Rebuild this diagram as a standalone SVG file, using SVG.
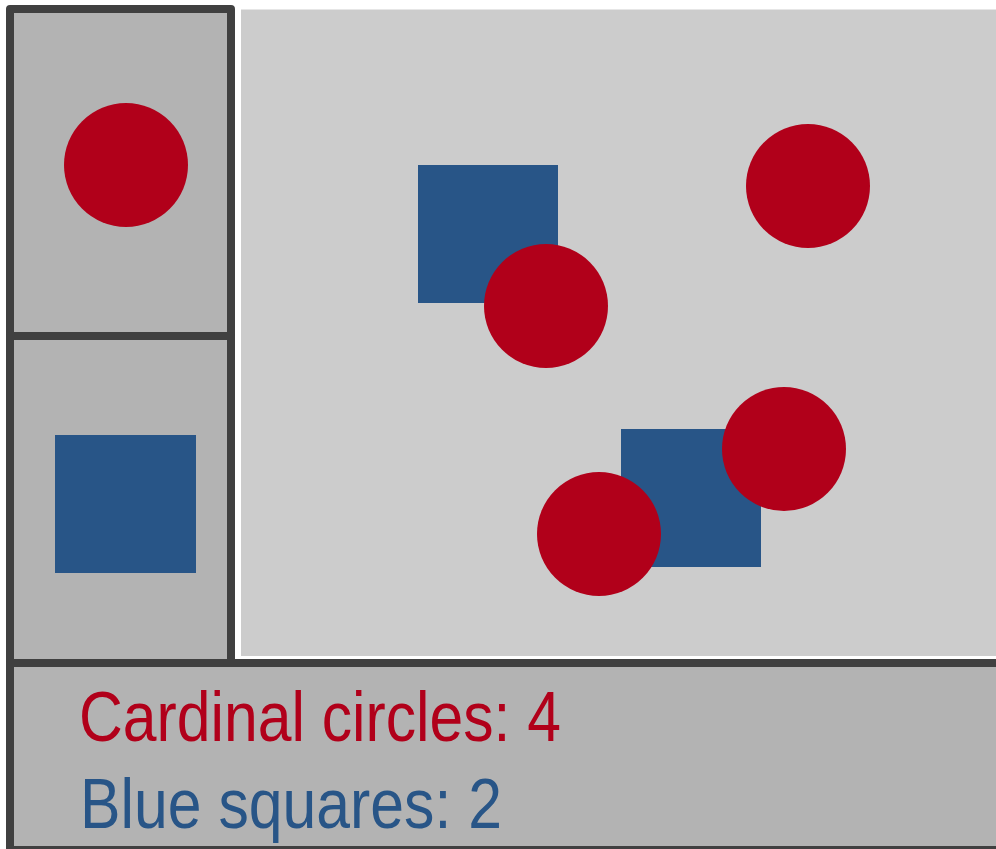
<svg xmlns="http://www.w3.org/2000/svg" width="996" height="849" viewBox="0 0 996 849">
<style>
.panel{fill:#b3b3b3;stroke:#404040;stroke-width:8;stroke-linejoin:round}
.main{fill:#cccccc;stroke:#ffffff;stroke-width:3}
.circ{fill:#b1001a}
.sq{fill:#285587}
.lbl{font-family:"Liberation Sans",Arial,sans-serif;font-size:70px}
</style>
<rect width="996" height="849" fill="#ffffff"/>
<g id="main-panel">
<rect class="main" x="239.5" y="8" width="760" height="649.5"/>
<rect class="sq" x="418" y="165" width="140" height="138"/>
<circle class="circ" cx="546" cy="306" r="62"/>
<circle class="circ" cx="808" cy="186" r="62"/>
<rect class="sq" x="621" y="429" width="140" height="138"/>
<circle class="circ" cx="784" cy="449" r="62"/>
<circle class="circ" cx="599" cy="534" r="62"/>
</g>
<g id="circle-legend">
<rect class="panel" x="10" y="9" width="221" height="327"/>
<circle class="circ" cx="126" cy="165" r="62"/>
</g>
<g id="square-legend">
<rect class="panel" x="10" y="336" width="221" height="327"/>
<rect class="sq" x="55" y="435" width="141" height="138"/>
</g>
<g id="counts">
<rect class="panel" x="10" y="663" width="994" height="187"/>
<text class="lbl" x="79" y="741" fill="#b1001a" textLength="482" lengthAdjust="spacingAndGlyphs">Cardinal circles: 4</text>
<text class="lbl" x="80" y="828" fill="#285587" textLength="422" lengthAdjust="spacingAndGlyphs">Blue squares: 2</text>
</g>
<g id="connectors"/>
</svg>
